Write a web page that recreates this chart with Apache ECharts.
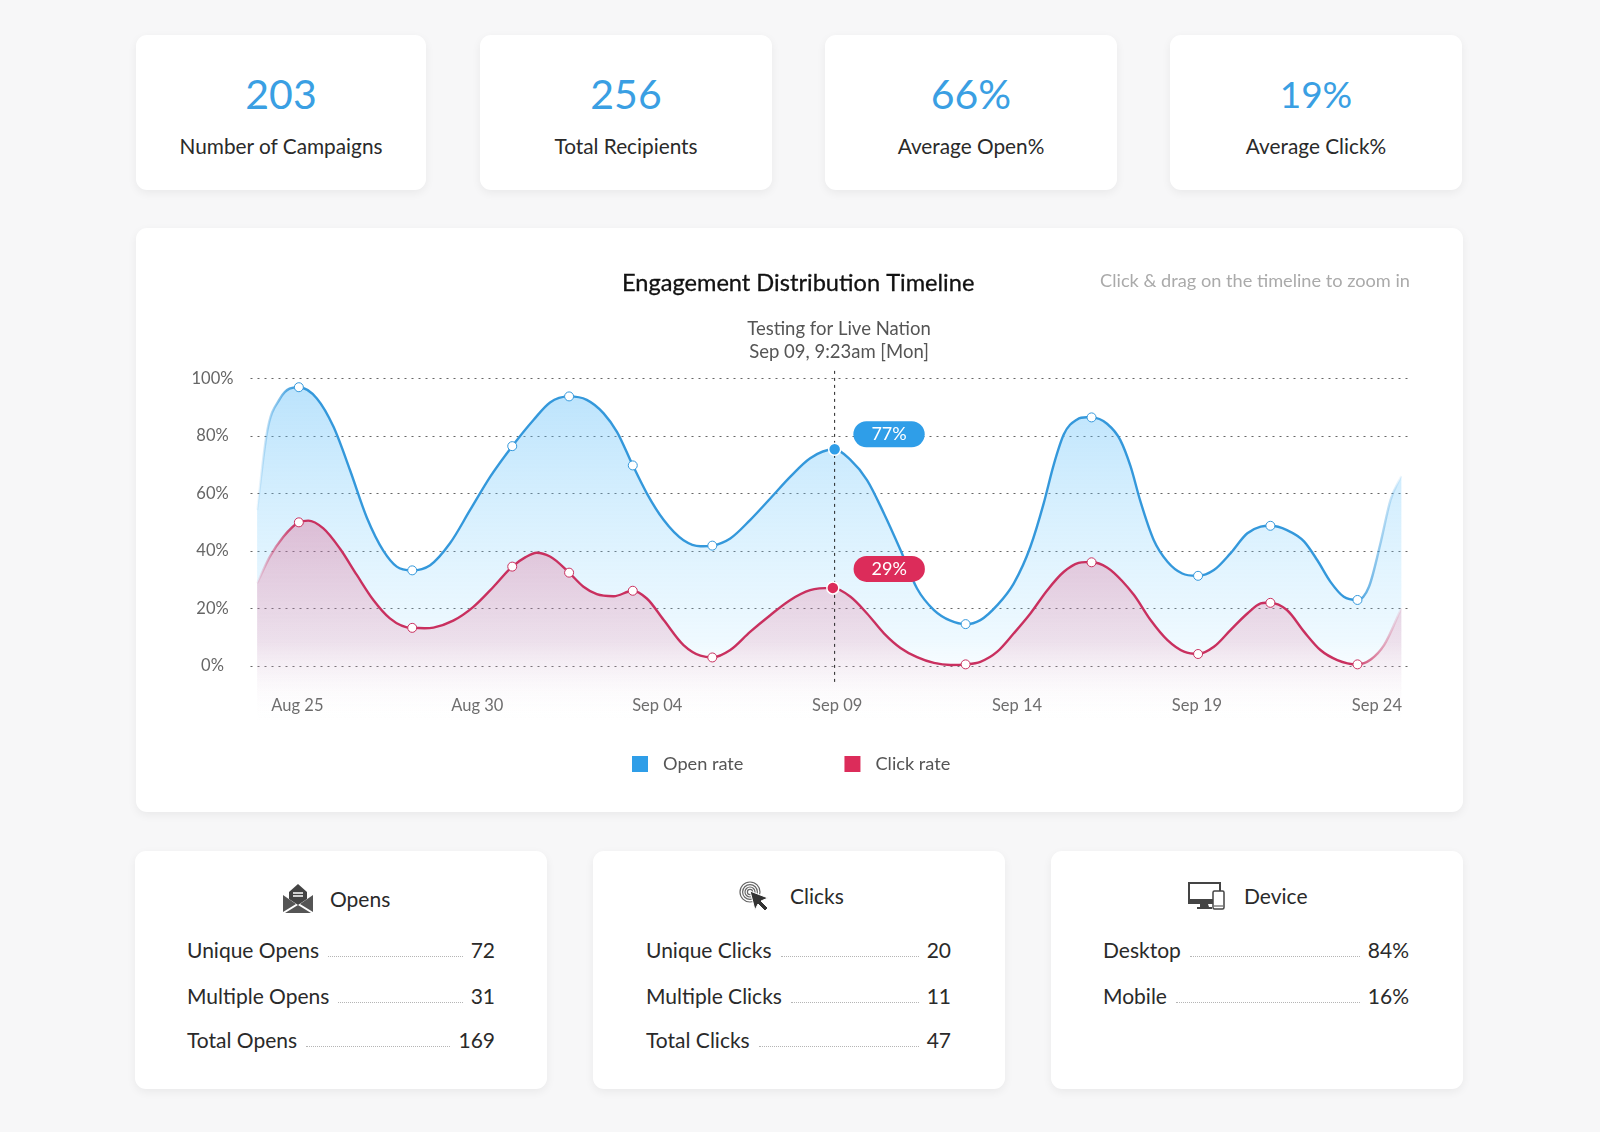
<!DOCTYPE html>
<html>
<head>
<meta charset="utf-8">
<title>Engagement Distribution Timeline</title>
<script src="https://cdn.jsdelivr.net/npm/echarts@6/dist/echarts.min.js"></script>
<style>
  html, body { margin: 0; padding: 0; }
  body { width: 1600px; height: 1132px; background: #f7f7f8; position: relative; overflow: hidden; font-family: Lato, sans-serif; color: #2a2a2a; }
  .card { position: absolute; box-sizing: border-box; background: #fff; border-radius: 11px; box-shadow: 0 3px 10px rgba(0,0,0,.06); }
  .stat { top: 35px; height: 155px; text-align: center; }
  .stat b { position: absolute; left: 0; right: 0; top: 31px; font-weight: 400; font-size: 41px; line-height: 56px; color: #3a9fe3; }
  .stat span { position: absolute; left: 0; right: 0; top: 94.5px; font-size: 20.8px; line-height: 32px; }
  .panel { top: 851px; height: 238px; width: 412px; }
  .panel .head { position: absolute; height: 36px; display: flex; align-items: center; font-size: 21px; }
  .panel .head svg { display: block; }
  .row { position: absolute; display: flex; align-items: baseline; font-size: 21px; line-height: 30px; height: 30px; }
  .row i { flex: 1; margin: 0 8px 0 9px; border-bottom: 1px dotted #b5b5b5; height: 20px; transform: translateY(-1px); }
  #chart { position: absolute; left: 136px; top: 228px; width: 1327px; height: 584px; }
</style>
</head>
<body>
<div class="card" style="left:136px;top:228px;width:1327px;height:584px"></div>
<div id="chart"></div>
<script>
// summary cards
const statValues = ['203', '256', '66%', '19%']
const statLabels = ['Number of Campaigns', 'Total Recipients', 'Average Open%', 'Average Click%']

// bottom panels
const opensLabels = ['Unique Opens', 'Multiple Opens', 'Total Opens']
const opensValues = ['72', '31', '169']
const clicksLabels = ['Unique Clicks', 'Multiple Clicks', 'Total Clicks']
const clicksValues = ['20', '11', '47']
const deviceLabels = ['Desktop', 'Mobile']
const deviceValues = ['84%', '16%']

// x values are days after Aug 25
const tickDays = [0, 5, 10, 15, 20, 25, 30]
const tickLabels = ['Aug 25', 'Aug 30', 'Sep 04', 'Sep 09', 'Sep 14', 'Sep 19', 'Sep 24']
const yTicks = [0, 20, 40, 60, 80, 100]

// the dots on the curves
const dotDays = [0.04, 3.19, 5.97, 7.55, 9.32, 11.53, 18.57, 22.07, 25.03, 27.04, 29.46]
const openDots = [96.9, 33.2, 76.4, 93.7, 69.7, 41.8, 14.5, 86.4, 31.3, 48.7, 22.9]
const clickDots = [49.9, 13.2, 34.5, 32.4, 26.1, 2.9, 0.5, 36, 4.1, 21.9, 0.5]

// curves
const openDays = [
  -1.12, -0.85, -0.48, 0.04, 0.54, 1, 1.46, 1.93, 2.39, 2.76, 3.19, 3.69, 4.24, 4.8, 5.36, 5.97, 6.56, 7.02, 7.55, 8.04,
  8.51, 8.88, 9.32, 9.71, 10.18, 10.73, 11.2, 11.53, 12.03, 12.58, 13.14, 13.7, 14.25, 14.93, 15.37, 15.83, 16.3, 16.76, 17.22, 17.69,
  18.15, 18.57, 18.98, 19.45, 19.91, 20.37, 20.74, 21.02, 21.3, 21.67, 22.07, 22.5, 22.87, 23.15, 23.43, 23.8, 24.18, 24.59, 25.03, 25.47,
  25.93, 26.4, 26.77, 27.04, 27.5, 27.98, 28.34, 28.71, 29.08, 29.46, 29.78, 30.1, 30.38, 30.68,
]
const openRate = [
  54.2, 80.9, 93, 96.9, 93, 83.2, 68.1, 51.5, 40, 34.5, 33.2, 35, 42.6, 54.2, 65.8, 76.4, 85.5, 91.6, 93.7, 92.5,
  87.8, 81.4, 69.7, 60, 50.7, 43.7, 41.6, 41.8, 44.3, 50.7, 58.2, 65.8, 72.2, 75.3, 71.6, 64.6, 53, 40.3, 26.9, 19.4,
  15.7, 14.5, 15.9, 21.1, 28.7, 41.4, 56.5, 70, 80.5, 85.7, 86.4, 84.2, 78.5, 69.5, 57.1, 43.7, 36.2, 32.1, 31.3, 33.3,
  39.1, 46.1, 48.4, 48.7, 47.2, 43.2, 36.8, 29.2, 24, 22.9, 27.5, 42.6, 57.7, 66,
]
const clickDays = [
  -1.12, -0.77, -0.39, 0.04, 0.3, 0.72, 1.18, 1.65, 2.11, 2.57, 3.19, 3.78, 4.33, 4.89, 5.45, 5.97, 6.33, 6.65, 7.02, 7.55,
  7.95, 8.32, 8.79, 9.32, 9.71, 10.18, 10.73, 11.2, 11.53, 12.03, 12.58, 13.14, 13.7, 14.25, 14.88, 15.37, 15.83, 16.3, 16.76, 17.22,
  17.69, 18.15, 18.57, 18.98, 19.45, 19.91, 20.37, 20.84, 21.3, 21.71, 22.07, 22.5, 22.92, 23.25, 23.71, 24.18, 24.64, 25.03, 25.47, 25.93,
  26.4, 26.77, 27.04, 27.5, 27.98, 28.43, 28.9, 29.46, 29.83, 30.2, 30.68,
]
const clickRate = [
  28.7, 37.9, 44.9, 49.9, 50.5, 47.8, 40.8, 31.6, 22.9, 16.5, 13.2, 13.3, 15.7, 20.5, 27.5, 34.5, 37.7, 39.3, 38, 32.4,
  27.5, 24.9, 24.2, 26.1, 23.4, 15.9, 7.2, 3.5, 2.9, 5.5, 11.8, 17.6, 22.9, 26.3, 27.1, 24, 18.2, 11.3, 6.2, 3,
  1, 0.3, 0.5, 1.4, 4.9, 11.3, 18.2, 26.3, 32.7, 35.8, 36, 34.2, 29.5, 24.6, 15.9, 8.9, 4.9, 4.1, 6.6, 12.4,
  18.2, 21.7, 21.9, 19.4, 11.8, 5.5, 2, 0.5, 2.2, 7.2, 20,
]

// hovered point
const hoverOpen = [14.93, 75.3]
const hoverClick = [14.88, 27.1]
const hoverLabels = ['77%', '29%']
const crosshair = [[14.93, -5.6], [14.93, 103.5]]

const BLUE = '#3498db'
const RED = '#c9305f'
const BASE_VALUE = -20

const iconOpens = `<svg width="30" height="29" viewBox="0 0 30 29" style="margin-right:17px"><path d="M15 0 L24 8 V15 L15 21 L6 15 V8 Z" fill="#444"/><path d="M10 9h10M10 12h10" stroke="#fff" stroke-width="1.4"/><path d="M0 11 L13 20 L0 28 Z M30 11 L17 20 L30 28 Z M2 29 L15 21 L28 29 Z" fill="#555"/></svg>`
const iconClicks = `<svg width="30" height="30" viewBox="0 0 30 30" style="margin-right:21px"><g fill="none" stroke="#666" stroke-width="1.2"><circle cx="11" cy="11" r="10"/><circle cx="11" cy="11" r="7.4"/><circle cx="11" cy="11" r="5"/><circle cx="11" cy="11" r="2.6"/></g><path d="M11 10 L29 17 L22 20 L29 27 L26 30 L19 23 L16 29 Z" fill="#333" stroke="#fff" stroke-width="1"/></svg>`
const iconDevice = `<svg width="37" height="28" viewBox="0 0 37 28" style="margin-right:19px"><rect x="1" y="1" width="31" height="20" fill="none" stroke="#444" stroke-width="2"/><rect x="1" y="17" width="31" height="5" fill="#444"/><path d="M12 22h8l1 3h3v2H9v-2h3z" fill="#444"/><rect x="25" y="9" width="11" height="18" rx="1.5" fill="#fff" stroke="#444" stroke-width="1.5"/><path d="M26 24h9" stroke="#444"/></svg>`

function addStat(left, width, value, label, fontSize) {
  const el = document.createElement('div')
  el.className = 'card stat'
  el.style.left = left + 'px'
  el.style.width = width + 'px'
  el.innerHTML = `<b style="font-size:${fontSize}px">${value}</b><span>${label}</span>`
  document.body.appendChild(el)
}

function addPanel(left, opts) {
  const el = document.createElement('div')
  el.className = 'card panel'
  el.style.left = left + 'px'
  let html = `<div class="head" style="left:${opts.headLeft}px;top:${opts.headTop}px">${opts.icon}<span>${opts.title}</span></div>`
  opts.labels.forEach((label, i) => {
    html += `<div class="row" style="left:${opts.rowLeft}px;right:${opts.rowRight}px;top:${[84, 130, 174][i]}px"><span>${label}</span><i></i><span>${opts.values[i]}</span></div>`
  })
  el.innerHTML = html
  document.body.appendChild(el)
}

[136, 480, 825, 1170].forEach((left, i) => addStat(left, i === 0 ? 290 : 292, statValues[i], statLabels[i], i === 3 ? 37 : 41))
addPanel(135, { title: 'Opens', icon: iconOpens, labels: opensLabels, values: opensValues, headLeft: 148, headTop: 29, rowLeft: 52, rowRight: 52 })
addPanel(593, { title: 'Clicks', icon: iconClicks, labels: clicksLabels, values: clicksValues, headLeft: 146, headTop: 26.5, rowLeft: 53, rowRight: 54 })
addPanel(1051, { title: 'Device', icon: iconDevice, labels: deviceLabels, values: deviceValues, headLeft: 137, headTop: 26.5, rowLeft: 52, rowRight: 54 })

function fadedLine(color) {
  return new echarts.graphic.LinearGradient(0, 0, 1, 0, [
    { offset: 0, color: color + '00' },
    { offset: 0.036, color: color },
    { offset: 0.955, color: color },
    { offset: 1, color: color + '00' },
  ])
}

function pairs(xs, ys) {
  return xs.map((x, i) => [x, ys[i]])
}

// line series smoothing clamps its control points and looks lumpy here,
// so the curve goes through the data with hermite segments, flat at the turning points
function curvePath(pts) {
  const chord = (i) => (pts[i + 1][1] - pts[i][1]) / (pts[i + 1][0] - pts[i][0])
  const slope = (i) => {
    if (i === 0) return chord(0)
    if (i === pts.length - 1) return chord(i - 1)
    const s0 = chord(i - 1)
    const s1 = chord(i)
    if (s0 * s1 <= 0) return 0
    const h0 = pts[i][0] - pts[i - 1][0]
    const h1 = pts[i + 1][0] - pts[i][0]
    return (s0 * h1 + s1 * h0) / (h0 + h1)
  }
  let d = `M${pts[0][0]} ${pts[0][1]}`
  for (let i = 0; i < pts.length - 1; i++) {
    const p = pts[i]
    const q = pts[i + 1]
    const h = (q[0] - p[0]) / 3
    d += `C${p[0] + h} ${p[1] + slope(i) * h} ${q[0] - h} ${q[1] - slope(i + 1) * h} ${q[0]} ${q[1]}`
  }
  return d
}

function curveSeries(name, days, values, stroke, fill) {
  return {
    name,
    type: 'custom',
    silent: true,
    data: pairs(days, values),
    renderItem: (params, api) => {
      if (params.dataIndex !== 0) return null
      const pts = pairs(days, values).map((p) => api.coord(p))
      const line = curvePath(pts)
      const end = api.coord([days[days.length - 1], BASE_VALUE])
      const start = api.coord([days[0], BASE_VALUE])
      return {
        type: 'group',
        children: [
          { type: 'path', shape: { pathData: `${line}L${end[0]} ${end[1]}L${start[0]} ${start[1]}Z` }, style: { fill } },
          { type: 'path', shape: { pathData: line }, style: { fill: 'none', stroke: fadedLine(stroke), lineWidth: 2.4 } },
        ],
      }
    },
  }
}

const chart = echarts.init(document.getElementById('chart'), null, { renderer: 'canvas' })

chart.setOption({
  animation: false,
  textStyle: { fontFamily: 'Lato, sans-serif' },
  title: [
    { text: 'Engagement Distribution Timeline', left: 481, top: 38, textStyle: { fontSize: 23.6, fontWeight: 400, color: '#111', textBorderColor: '#111', textBorderWidth: 0.3 } },
    { text: 'Click & drag on the timeline to zoom in', right: 48, top: 39, textStyle: { fontSize: 18.2, fontWeight: 400, color: '#aaa' } },
    { text: 'Testing for Live Nation\nSep 09, 9:23am [Mon]', left: 698, top: 85, textAlign: 'center', textStyle: { fontSize: 18.5, fontWeight: 400, color: '#555', lineHeight: 22.5 } },
  ],
  legend: {
    left: 491,
    top: 522,
    icon: 'rect',
    itemWidth: 16,
    itemHeight: 16,
    itemGap: 101,
    textStyle: { fontSize: 18.2, color: '#555', padding: [0, 0, 0, 10] },
    data: [
      { name: 'Open rate', itemStyle: { color: '#2f9ee8' } },
      { name: 'Click rate', itemStyle: { color: '#dc2c5a' } },
    ],
  },
  grid: { left: 114.5, right: 53, top: 138.8, bottom: 88.7 },
  xAxis: {
    type: 'value',
    min: -1.304,
    max: 30.92,
    axisLine: { show: false },
    axisTick: { show: false },
    splitLine: { show: false },
    axisLabel: {
      inside: true,
      margin: 9,
      customValues: tickDays,
      formatter: (v) => tickLabels[tickDays.indexOf(v)],
      fontSize: 16.5,
      color: '#666',
    },
  },
  yAxis: {
    type: 'value',
    min: BASE_VALUE,
    max: 104,
    interval: 20,
    axisLine: { show: false },
    axisTick: { show: false },
    axisLabel: {
      customValues: yTicks,
      formatter: '{value}%',
      align: 'center',
      margin: 38,
      padding: [2, 0, 0, 0],
      fontSize: 16.5,
      color: '#666',
    },
    splitLine: {
      showMinLine: false,
      showMaxLine: false,
      lineStyle: { color: '#666', type: [2, 5], width: 1 },
    },
  },
  series: [
    curveSeries('Open rate', openDays, openRate, BLUE, new echarts.graphic.LinearGradient(0, 0, 0, 1, [
      { offset: 0, color: 'rgba(85,185,248,0.4)' },
      { offset: 0.75, color: 'rgba(140,215,255,0.15)' },
      { offset: 1, color: 'rgba(255,255,255,0)' },
    ])),
    curveSeries('Click rate', clickDays, clickRate, RED, new echarts.graphic.LinearGradient(0, 0, 0, 1, [
      { offset: 0, color: 'rgba(225,70,120,0.3)' },
      { offset: 0.6, color: 'rgba(225,70,120,0.14)' },
      { offset: 1, color: 'rgba(255,255,255,0)' },
    ])),
    {
      type: 'line',
      z: 9,
      silent: true,
      symbol: 'none',
      data: crosshair,
      lineStyle: { color: '#222', type: [3, 4], width: 1 },
    },
    {
      type: 'scatter',
      z: 10,
      symbolSize: 9,
      data: pairs(dotDays, openDots),
      itemStyle: { color: '#fff', borderColor: BLUE, borderWidth: 1, opacity: 1 },
    },
    {
      type: 'scatter',
      z: 10,
      symbolSize: 9,
      data: pairs(dotDays, clickDots),
      itemStyle: { color: '#fff', borderColor: RED, borderWidth: 1, opacity: 1 },
    },
    {
      type: 'scatter',
      z: 10,
      symbolSize: 12,
      data: [hoverOpen],
      itemStyle: { color: '#2f9ee8', borderColor: '#fff', borderWidth: 1.5, opacity: 1 },
      label: {
        show: true, position: 'right', distance: 12, offset: [0, -15], formatter: hoverLabels[0],
        color: '#fff', fontSize: 18, backgroundColor: '#2f9ee8', borderRadius: 13, padding: [4, 18],
      },
    },
    {
      type: 'scatter',
      z: 10,
      symbolSize: 12,
      data: [hoverClick],
      itemStyle: { color: '#dc2c5a', borderColor: '#fff', borderWidth: 1.5, opacity: 1 },
      label: {
        show: true, position: 'right', distance: 14, offset: [0, -19], formatter: hoverLabels[1],
        color: '#fff', fontSize: 18, backgroundColor: '#dc2c5a', borderRadius: 13, padding: [4, 18],
      },
    },
  ],
})
</script>
</body>
</html>
